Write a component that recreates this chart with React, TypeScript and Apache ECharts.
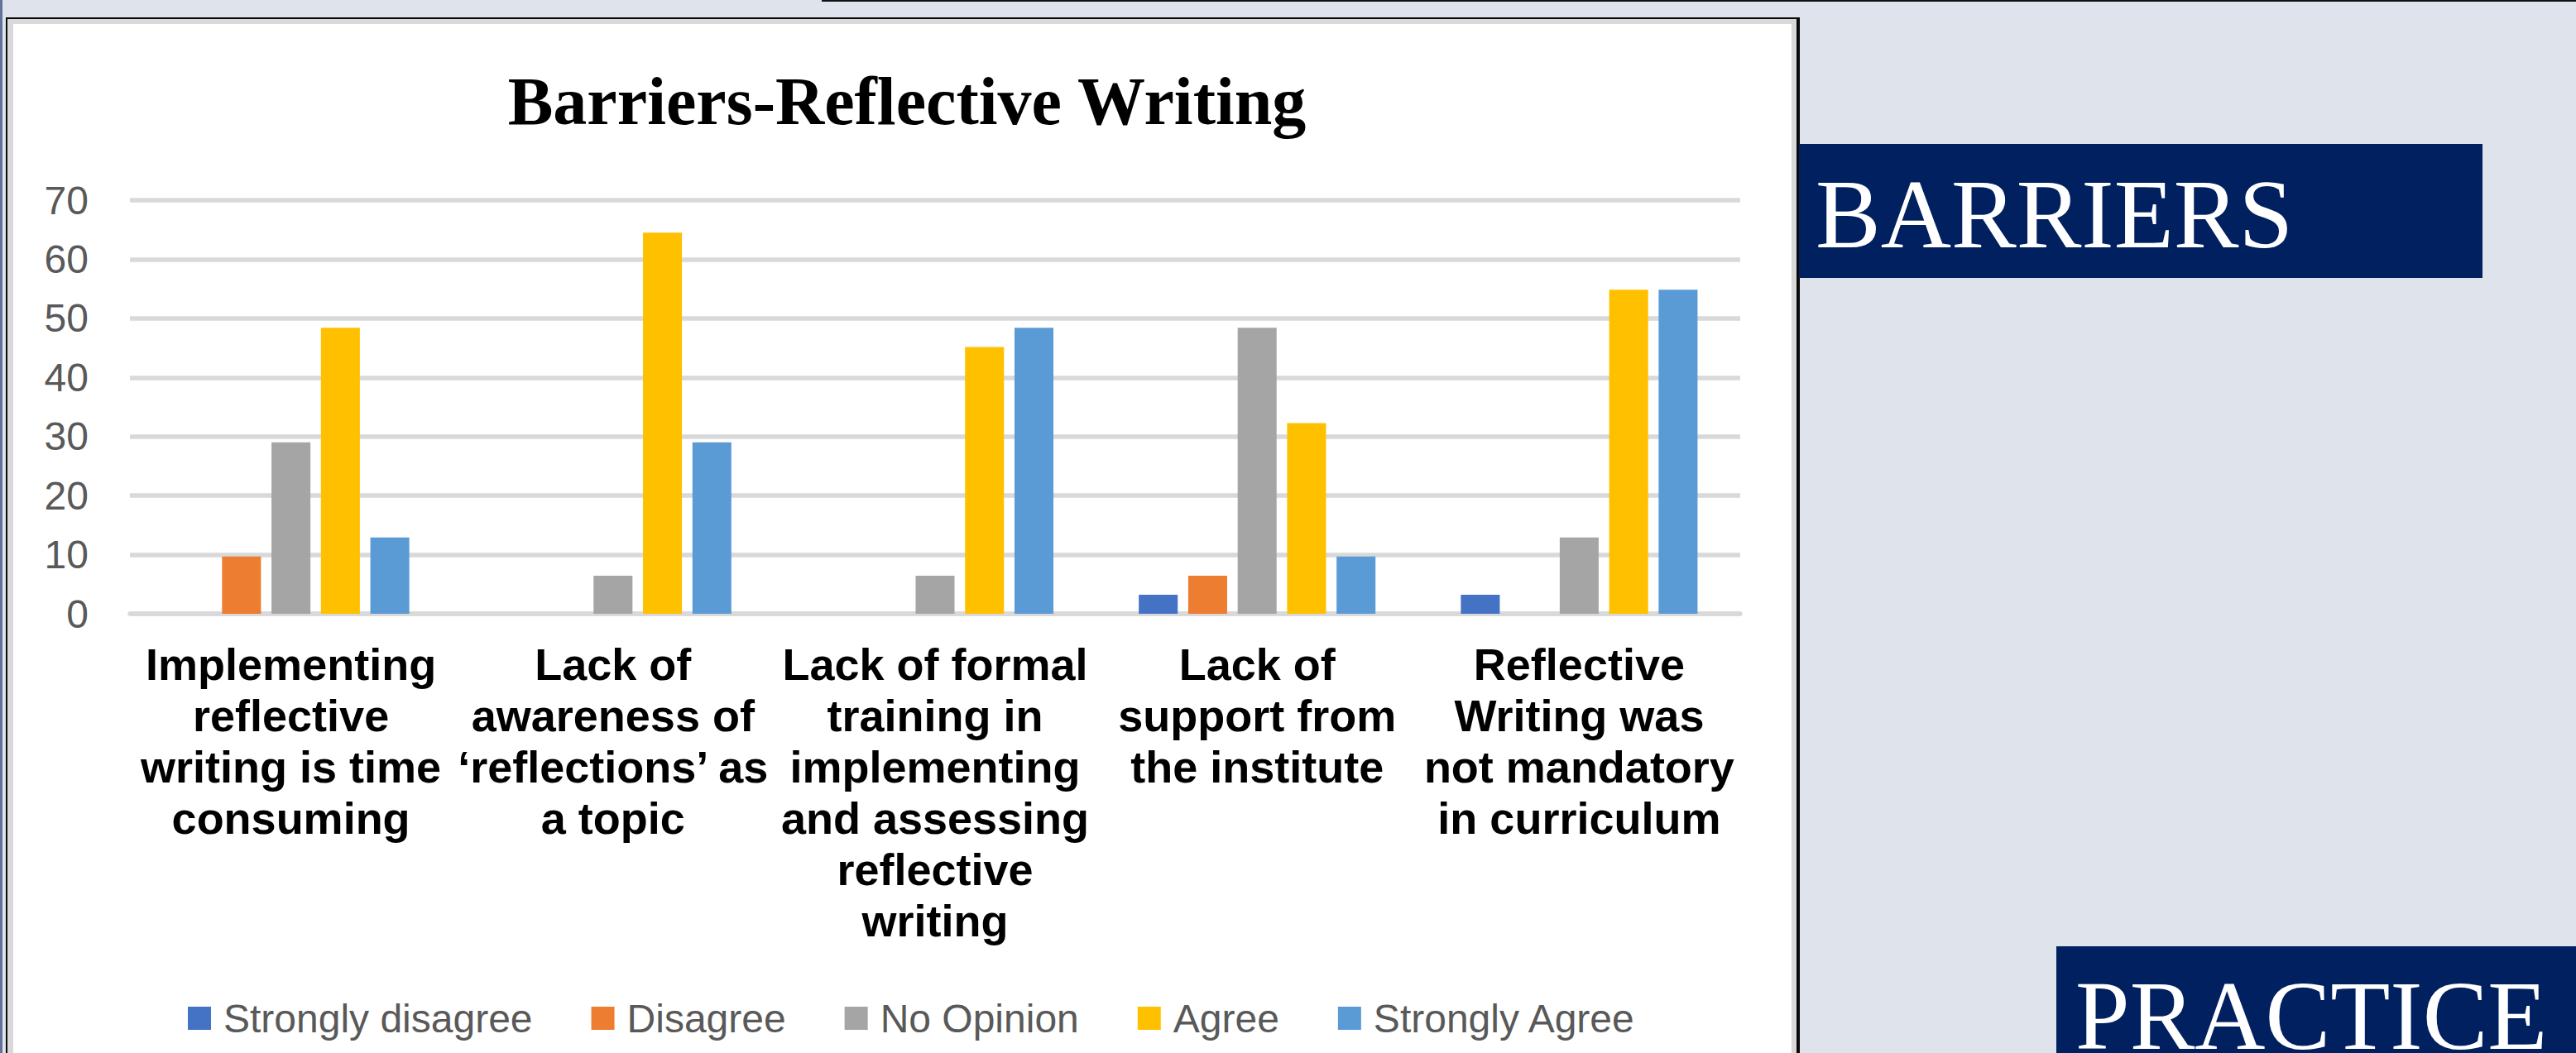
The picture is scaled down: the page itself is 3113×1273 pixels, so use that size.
import React, { useEffect, useRef } from "react";
import * as echarts from "echarts";

// Survey of barriers to reflective writing (percent of respondents)
const categories = [
  "Implementing\nreflective\nwriting is time\nconsuming",
  "Lack of\nawareness of\n‘reflections’ as\na topic",
  "Lack of formal\ntraining in\nimplementing\nand assessing\nreflective\nwriting",
  "Lack of\nsupport from\nthe institute",
  "Reflective\nWriting was\nnot mandatory\nin curriculum",
];

const seriesNames = ["Strongly disagree", "Disagree", "No Opinion", "Agree", "Strongly Agree"];
const stronglyDisagree = [0, 0, 0, 3.23, 3.23];
const disagree = [9.68, 0, 0, 6.45, 0];
const noOpinion = [29.03, 6.45, 6.45, 48.39, 12.9];
const agree = [48.39, 64.52, 45.16, 32.26, 54.84];
const stronglyAgree = [12.9, 29.03, 48.39, 9.68, 54.84];
const seriesColors = ["#4472C4", "#ED7D31", "#A5A5A5", "#FFC000", "#5B9BD5"];

const yTicks = { min: 0, max: 70, interval: 10 };

const W = 3113;
const H = 1273;

export default function App() {
  const ref = useRef<HTMLDivElement>(null);

  useEffect(() => {
    document.body.style.margin = "0";
    if (!ref.current) return;
    const chart = echarts.init(ref.current, undefined, { renderer: "svg" });
    const values = [stronglyDisagree, disagree, noOpinion, agree, stronglyAgree];

    chart.setOption({
      animation: false,
      backgroundColor: "#DFE3EC",
      title: {
        text: "Barriers-Reflective Writing",
        left: 1091,
        top: 76,
        textAlign: "center",
        textStyle: {
          fontFamily: "Liberation Serif",
          fontWeight: "bold",
          fontSize: 82,
          color: "#000000",
        },
      },
      legend: {
        data: seriesNames,
        left: 222,
        top: 1202,
        icon: "rect",
        itemWidth: 28,
        itemHeight: 28,
        itemGap: 71,
        textStyle: {
          fontFamily: "Liberation Sans",
          fontSize: 48,
          color: "#595959",
          padding: [0, 0, 0, 10],
        },
      },
      grid: {
        left: 157,
        right: W - 2103,
        top: 242,
        bottom: H - 742,
        containLabel: false,
      },
      xAxis: {
        type: "category",
        data: categories,
        axisLine: { show: true, lineStyle: { color: "#D9D9D9", width: 5.5 } },
        axisTick: { show: false },
        axisLabel: {
          interval: 0,
          margin: 30,
          fontFamily: "Liberation Sans",
          fontWeight: "bold",
          fontSize: 54,
          lineHeight: 62,
          color: "#000000",
          align: "center",
        },
      },
      yAxis: {
        type: "value",
        min: yTicks.min,
        max: yTicks.max,
        interval: yTicks.interval,
        axisLine: { show: false },
        axisTick: { show: false },
        axisLabel: {
          margin: 50,
          fontFamily: "Liberation Sans",
          fontSize: 48,
          color: "#595959",
        },
        splitLine: { lineStyle: { color: "#D9D9D9", width: 5.5 } },
      },
      series: seriesNames.map((name, i) => ({
        name,
        type: "bar",
        data: values[i],
        barGap: "27%",
        barCategoryGap: "26.5%",
        itemStyle: { color: seriesColors[i] },
      })),
      graphic: [
        // slide edge and top rule
        { type: "rect", z: -10, shape: { x: 0, y: 0, width: 3, height: H }, style: { fill: "#62729A" } },
        { type: "rect", z: -10, shape: { x: 993, y: 0, width: W - 993, height: 2 }, style: { fill: "#111111" } },
        // chart frame: black outline, grey inner band, white plot panel
        { type: "rect", z: -10, shape: { x: 7, y: 21, width: 2168, height: 1300 }, style: { fill: "#0A0A0A" } },
        { type: "rect", z: -9, shape: { x: 9, y: 23, width: 2162, height: 1300 }, style: { fill: "#D9D9D9" } },
        { type: "rect", z: -8, shape: { x: 16, y: 29, width: 2149, height: 1300 }, style: { fill: "#FFFFFF" } },
        // side headings
        { type: "rect", z: -7, shape: { x: 2174, y: 174, width: 826, height: 162 }, style: { fill: "#002060" } },
        {
          type: "text",
          z: -6,
          x: 2194,
          y: 259,
          style: {
            text: "BARRIERS",
            fill: "#FFFFFF",
            fontFamily: "Liberation Serif",
            fontSize: 118,
            verticalAlign: "middle",
            align: "left",
          },
        },
        { type: "rect", z: -7, shape: { x: 2485, y: 1144, width: 700, height: 200 }, style: { fill: "#002060" } },
        {
          type: "text",
          z: -6,
          x: 2508,
          y: 1228,
          style: {
            text: "PRACTICE",
            fill: "#FFFFFF",
            fontFamily: "Liberation Serif",
            fontSize: 118,
            verticalAlign: "middle",
            align: "left",
          },
        },
      ],
    });

    return () => chart.dispose();
  }, []);

  return (
    <div
      ref={ref}
      style={{ position: "fixed", left: 0, top: 0, width: W, height: H }}
    />
  );
}
